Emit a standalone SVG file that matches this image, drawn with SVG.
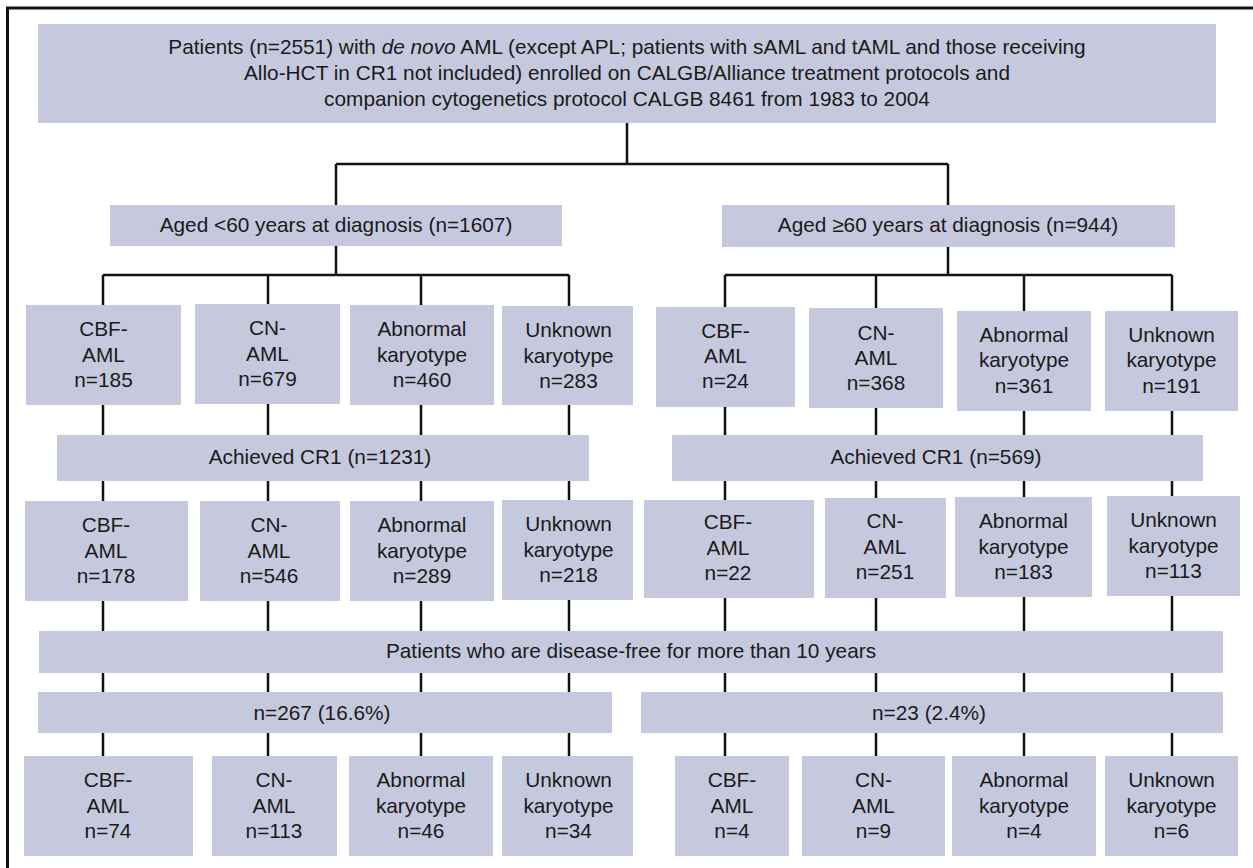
<svg xmlns="http://www.w3.org/2000/svg" width="1253" height="868" viewBox="0 0 1253 868">
<style>
.b{fill:#c6c9dd;stroke:none}
.t{font-family:"Liberation Sans",Arial,sans-serif;font-size:20.8px;fill:#1a1a1a;text-anchor:middle}
.c{stroke:#111;stroke-width:2.5;fill:none}
</style>
<rect x="7.5" y="8" width="1270" height="880" fill="#fff" stroke="#111" stroke-width="3"/>
<g id="connectors" class="c">
<path d="M627 123V164M336 164H948M336 164V205M948 164V205"/>
<path d="M336 246V275M103 275H569M103 275V756M268 275V756M421 275V756M569 275V756"/>
<path d="M948 247V275M725 275H1172M725 275V756M876 275V756M1024 275V756M1172 275V756"/>
</g>
<g id="top"><rect class="b" x="38" y="24" width="1178" height="99"/>
<text class="t" x="627" y="54">Patients (n=2551) with <tspan font-style="italic">de novo</tspan> AML (except APL; patients with sAML and tAML and those receiving</text>
<text class="t" x="627" y="80">Allo-HCT in CR1 not included) enrolled on CALGB/Alliance treatment protocols and</text>
<text class="t" x="627" y="106">companion cytogenetics protocol CALGB 8461 from 1983 to 2004</text></g>
<g id="young"><rect class="b" x="110" y="205" width="452" height="41"/><text class="t" x="336" y="232">Aged &lt;60 years at diagnosis (n=1607)</text></g>
<g id="old"><rect class="b" x="722" y="205" width="453" height="42"/><text class="t" x="948" y="232">Aged ≥60 years at diagnosis (n=944)</text></g>

<g id="y1cbf"><rect class="b" x="26" y="305" width="155" height="100"/><text class="t" x="103.5" y="336">CBF-</text><text class="t" x="103.5" y="362">AML</text><text class="t" x="103.5" y="387">n=185</text></g>
<g id="y1cn"><rect class="b" x="195" y="304" width="145" height="100"/><text class="t" x="267.5" y="335">CN-</text><text class="t" x="267.5" y="361">AML</text><text class="t" x="267.5" y="386">n=679</text></g>
<g id="y1ab"><rect class="b" x="350" y="305" width="144" height="100"/><text class="t" x="422" y="336">Abnormal</text><text class="t" x="422" y="362">karyotype</text><text class="t" x="422" y="387">n=460</text></g>
<g id="y1un"><rect class="b" x="502" y="306" width="131" height="99"/><text class="t" x="568.5" y="337">Unknown</text><text class="t" x="568.5" y="363">karyotype</text><text class="t" x="568.5" y="388">n=283</text></g>

<g id="o1cbf"><rect class="b" x="656" y="307" width="139" height="100"/><text class="t" x="725.5" y="338">CBF-</text><text class="t" x="725.5" y="363">AML</text><text class="t" x="725.5" y="388">n=24</text></g>
<g id="o1cn"><rect class="b" x="809" y="308" width="134" height="100"/><text class="t" x="876" y="340">CN-</text><text class="t" x="876" y="365">AML</text><text class="t" x="876" y="390">n=368</text></g>
<g id="o1ab"><rect class="b" x="957" y="311" width="134" height="100"/><text class="t" x="1024" y="342">Abnormal</text><text class="t" x="1024" y="367">karyotype</text><text class="t" x="1024" y="393">n=361</text></g>
<g id="o1un"><rect class="b" x="1105" y="311" width="133" height="100"/><text class="t" x="1171.5" y="342">Unknown</text><text class="t" x="1171.5" y="367">karyotype</text><text class="t" x="1171.5" y="393">n=191</text></g>

<g id="ycr"><rect class="b" x="57" y="435" width="532" height="46"/><text class="t" x="320" y="464">Achieved CR1 (n=1231)</text></g>
<g id="ocr"><rect class="b" x="672" y="435" width="531" height="46"/><text class="t" x="936" y="464">Achieved CR1 (n=569)</text></g>

<g id="y2cbf"><rect class="b" x="25" y="501" width="163" height="100"/><text class="t" x="106" y="532">CBF-</text><text class="t" x="106" y="558">AML</text><text class="t" x="106" y="583">n=178</text></g>
<g id="y2cn"><rect class="b" x="200" y="501" width="140" height="100"/><text class="t" x="269" y="532">CN-</text><text class="t" x="269" y="558">AML</text><text class="t" x="269" y="583">n=546</text></g>
<g id="y2ab"><rect class="b" x="350" y="501" width="144" height="100"/><text class="t" x="422" y="532">Abnormal</text><text class="t" x="422" y="558">karyotype</text><text class="t" x="422" y="583">n=289</text></g>
<g id="y2un"><rect class="b" x="502" y="500" width="131" height="100"/><text class="t" x="568.5" y="531">Unknown</text><text class="t" x="568.5" y="557">karyotype</text><text class="t" x="568.5" y="582">n=218</text></g>

<g id="o2cbf"><rect class="b" x="644" y="500" width="170" height="98"/><text class="t" x="728" y="529">CBF-</text><text class="t" x="728" y="555">AML</text><text class="t" x="728" y="580">n=22</text></g>
<g id="o2cn"><rect class="b" x="825" y="498" width="121" height="100"/><text class="t" x="885" y="528">CN-</text><text class="t" x="885" y="554">AML</text><text class="t" x="885" y="579">n=251</text></g>
<g id="o2ab"><rect class="b" x="955" y="497" width="137" height="100"/><text class="t" x="1023.5" y="528">Abnormal</text><text class="t" x="1023.5" y="554">karyotype</text><text class="t" x="1023.5" y="579">n=183</text></g>
<g id="o2un"><rect class="b" x="1107" y="496" width="133" height="100"/><text class="t" x="1173.5" y="527">Unknown</text><text class="t" x="1173.5" y="553">karyotype</text><text class="t" x="1173.5" y="578">n=113</text></g>

<g id="free"><rect class="b" x="39" y="631" width="1184" height="42"/><text class="t" x="631" y="658">Patients who are disease-free for more than 10 years</text></g>
<g id="yfree"><rect class="b" x="38" y="692" width="574" height="41"/><text class="t" x="322" y="720">n=267 (16.6%)</text></g>
<g id="ofree"><rect class="b" x="641" y="692" width="582" height="41"/><text class="t" x="929" y="720">n=23 (2.4%)</text></g>

<g id="y3cbf"><rect class="b" x="24" y="756" width="169" height="100"/><text class="t" x="108" y="787">CBF-</text><text class="t" x="108" y="813">AML</text><text class="t" x="108" y="838">n=74</text></g>
<g id="y3cn"><rect class="b" x="212" y="756" width="125" height="100"/><text class="t" x="274" y="787">CN-</text><text class="t" x="274" y="813">AML</text><text class="t" x="274" y="838">n=113</text></g>
<g id="y3ab"><rect class="b" x="349" y="756" width="144" height="100"/><text class="t" x="421" y="787">Abnormal</text><text class="t" x="421" y="813">karyotype</text><text class="t" x="421" y="838">n=46</text></g>
<g id="y3un"><rect class="b" x="502" y="756" width="131" height="100"/><text class="t" x="568.5" y="787">Unknown</text><text class="t" x="568.5" y="813">karyotype</text><text class="t" x="568.5" y="838">n=34</text></g>

<g id="o3cbf"><rect class="b" x="675" y="756" width="114" height="100"/><text class="t" x="732" y="787">CBF-</text><text class="t" x="732" y="813">AML</text><text class="t" x="732" y="838">n=4</text></g>
<g id="o3cn"><rect class="b" x="802" y="756" width="143" height="100"/><text class="t" x="873.5" y="787">CN-</text><text class="t" x="873.5" y="813">AML</text><text class="t" x="873.5" y="838">n=9</text></g>
<g id="o3ab"><rect class="b" x="952" y="756" width="144" height="100"/><text class="t" x="1024" y="787">Abnormal</text><text class="t" x="1024" y="813">karyotype</text><text class="t" x="1024" y="838">n=4</text></g>
<g id="o3un"><rect class="b" x="1105" y="756" width="133" height="100"/><text class="t" x="1171.5" y="787">Unknown</text><text class="t" x="1171.5" y="813">karyotype</text><text class="t" x="1171.5" y="838">n=6</text></g>
</svg>
